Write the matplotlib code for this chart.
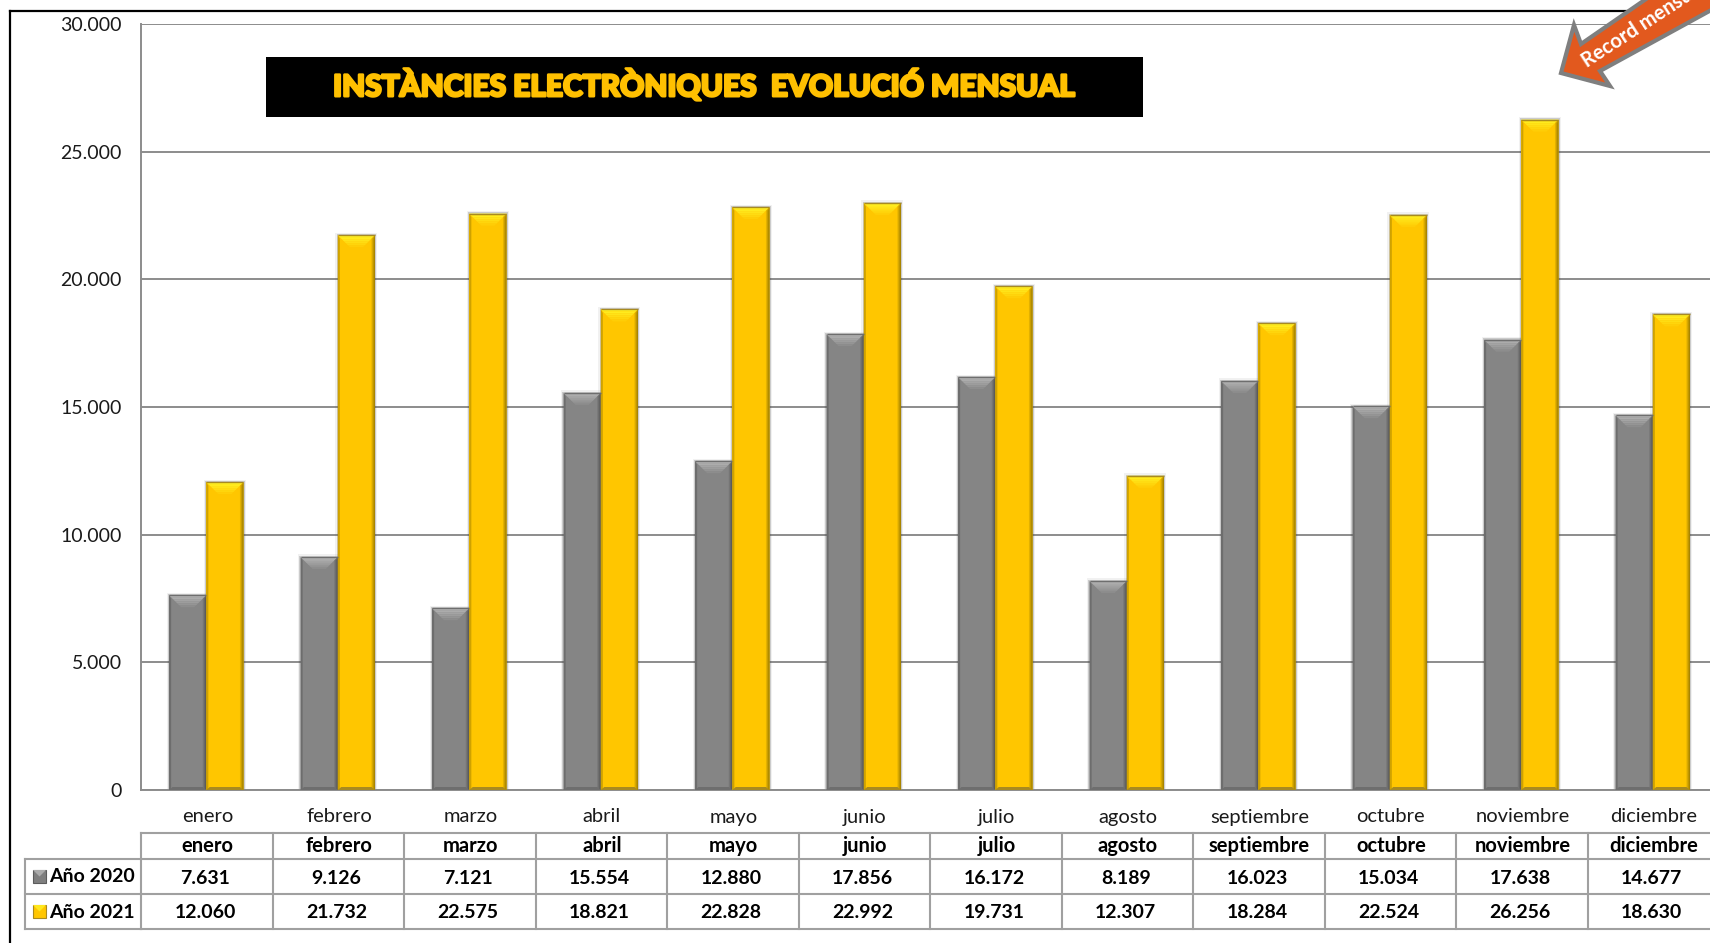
import numpy as np
import matplotlib
matplotlib.use("Agg")
import matplotlib.pyplot as plt
import matplotlib.patheffects as pe
from matplotlib.colors import to_rgb
from matplotlib.patches import Polygon, Rectangle
from matplotlib.transforms import blended_transform_factory

plt.rcParams['font.family'] = ['Lato', 'DejaVu Sans']

# Data
months = ["enero", "febrero", "marzo", "abril", "mayo", "junio", "julio",
          "agosto", "septiembre", "octubre", "noviembre", "diciembre"]
anio_2020 = [7631, 9126, 7121, 15554, 12880, 17856, 16172, 8189, 16023, 15034, 17638, 14677]
anio_2021 = [12060, 21732, 22575, 18821, 22828, 22992, 19731, 12307, 18284, 22524, 26256, 18630]
y_ticks = [0, 5000, 10000, 15000, 20000, 25000, 30000]
series_names = ["Año 2020", "Año 2021"]
title_text = "INSTÀNCIES ELECTRÒNIQUES  EVOLUCIÓ MENSUAL"
arrow_text = "Record mensual"

W, H = 1710, 943
GRID = '#8C8C8C'
LINE = '#A0A0A0'


def fx(px):
    return px / W


def fy(py):
    return 1 - py / H


def dots(n):
    """Thousands with a dot, like the source."""
    return f"{n:,}".replace(",", ".")


def mix(c1, c2, t):
    a, b = np.array(to_rgb(c1)), np.array(to_rgb(c2))
    return tuple(a + (b - a) * t)


fig = plt.figure(figsize=(W / 100, H / 100), dpi=100, facecolor='white')

# axes run past the right edge of the picture, same as the reference
ax_left, ax_right, ax_top, ax_bottom = 141, 141 + 12 * 131.5, 24, 790
ax = fig.add_axes([fx(ax_left), fy(ax_bottom), (ax_right - ax_left) / W, (ax_bottom - ax_top) / H])
ax.set_xlim(-0.5, 11.5)
ax.set_ylim(0, 30000)
ax.set_yticks(y_ticks)
ax.set_yticklabels([dots(v) for v in y_ticks], fontsize=14, color='#1A1A1A')
ax.tick_params(axis='y', length=0, pad=14)
ax.set_xticks([])
ax.yaxis.grid(True, color=GRID, lw=1.4)
ax.set_axisbelow(True)
for side in ['top', 'right']:
    ax.spines[side].set_visible(False)
for side in ['left', 'bottom']:
    ax.spines[side].set_color(GRID)
    ax.spines[side].set_linewidth(1.4)

x = np.arange(len(months))
width = 0.283
unit_x = 1 / 131.5      # one pixel in x data units
unit_y = 30000 / 766    # one pixel in y data units
shift = -0.5 * unit_x   # bars sit a bit left of the category centre


def bevel_bars(xs, values, main, top, side, low):
    # soft shadow first
    for grow, alpha in [(2.5, 0.07), (1.2, 0.22)]:
        ax.bar(xs, np.array(values) + grow * unit_y, width + 2 * grow * unit_x,
               color='#444444', alpha=alpha, zorder=2, lw=0)
    ax.bar(xs, values, width, color=main, zorder=3, lw=0)
    inset = 12 * unit_x
    by = 12 * unit_y
    bx = 3.5 * unit_x
    for xc, v in zip(xs, values):
        l, r = xc - width / 2, xc + width / 2
        # top bevel fades from bright to the bar colour
        steps = 6
        for k in range(steps):
            t0, t1 = k / steps, (k + 1) / steps
            ax.add_patch(Polygon([(l + inset * t0, v - by * t0), (r - inset * t0, v - by * t0),
                                  (r - inset * t1, v - by * t1), (l + inset * t1, v - by * t1)],
                                 closed=True, fc=mix(top, main, t0), ec='none', zorder=4))
        # side bevels get darker to the edge
        for k in range(3):
            t = (k + 1) / 3
            ax.add_patch(Polygon([(r, 0), (r, v), (r - bx * (1.0 - k / 3), v - by * 0.3), (r - bx * (1.0 - k / 3), 0)],
                                 closed=True, fc=mix(main, side, t), ec='none', zorder=4))
        ax.add_patch(Polygon([(l, 0), (l, v), (l + bx * 0.6, v - by * 0.3), (l + bx * 0.6, 0)],
                             closed=True, fc=mix(main, side, 0.55), ec='none', zorder=4))
        ax.add_patch(Polygon([(l, 0), (r, 0), (r - bx, 3 * unit_y), (l + bx, 3 * unit_y)],
                             closed=True, fc=low, ec='none', zorder=4))
        ax.plot([l, r], [v, v], color=low, lw=1, zorder=5, solid_capstyle='butt')


bevel_bars(x - width / 2 + shift, anio_2020, '#858585', '#B4B4B4', '#5A5A5A', '#6E6E6E')
bevel_bars(x + width / 2 + shift, anio_2021, '#FFC600', '#FFF224', '#A88500', '#A88A20')

# table below the chart
trans = blended_transform_factory(ax.transData, fig.transFigure)
rows_y = [833, 859, 894, 929]
edge = 141
for i, py in enumerate(rows_y):
    ax.plot([-0.5, 11.5], [fy(py), fy(py)], transform=trans, color=LINE, lw=1.5, clip_on=False)
for xv in np.arange(-0.5, 12, 1):
    ax.plot([xv, xv], [fy(rows_y[0]), fy(rows_y[-1])], transform=trans, color=LINE, lw=1.5, clip_on=False)
for py in rows_y[1:]:
    fig.add_artist(plt.Line2D([fx(25), fx(edge)], [fy(py), fy(py)], color=LINE, lw=1.5))
fig.add_artist(plt.Line2D([fx(25), fx(25)], [fy(rows_y[1]), fy(rows_y[-1])], color=LINE, lw=1.5))

for i, m in enumerate(months):
    ax.text(i + 0.005, fy(817), m, transform=trans, ha='center', va='center', fontsize=14.5, color='#1A1A1A', clip_on=False)
    ax.text(i + 0.005, fy(846.5), m, transform=trans, ha='center', va='center', fontsize=14.5, fontweight='bold', color='black')
    ax.text(i - 0.012, fy(878), dots(anio_2020[i]), transform=trans, ha='center', va='center',
            fontsize=14, fontweight='bold', color='black')
    ax.text(i - 0.012, fy(913), dots(anio_2021[i]), transform=trans, ha='center', va='center',
            fontsize=14, fontweight='bold', color='black')

# legend keys inside the table
key_styles = [('#7F7F7F', '#ABABAB', '#5C5C5C'), ('#FFC600', '#FFE81E', '#A88A20')]
for name, (main, top, low), py in zip(series_names, key_styles, [876.5, 911.5]):
    x0, x1, y0, y1 = 33, 46, py - 6.5, py + 6.5
    fig.add_artist(Rectangle((fx(x0), fy(y1)), (x1 - x0) / W, (y1 - y0) / H, transform=fig.transFigure,
                             fc=main, ec=low, lw=0.8))
    fig.add_artist(Polygon([(fx(x0), fy(y0)), (fx(x1), fy(y0)), (fx((x0 + x1) / 2), fy(py))],
                           closed=True, transform=fig.transFigure, fc=top, ec='none'))
    fig.text(fx(49), fy(py + 0.5), name, ha='left', va='center', fontsize=14, fontweight='bold', color='black')

# outer black frame
fig.add_artist(plt.Line2D([fx(9.5), fx(W)], [fy(11), fy(11)], color='black', lw=1.6))
fig.add_artist(plt.Line2D([fx(9.5), fx(9.5)], [fy(11), fy(H)], color='black', lw=1.6))

# title box
fig.add_artist(Rectangle((fx(266), fy(117)), (1143 - 266) / W, 60 / H, transform=fig.transFigure,
                         fc='black', ec='none', zorder=6))
fig.text(fx(704), fy(85), title_text, ha='center', va='center', fontsize=21.5, fontweight='black',
         color='#FFC000', zorder=7, path_effects=[pe.withStroke(linewidth=1.8, foreground='#FFC000')])

# orange arrow, cut by the edge of the picture
arrow_px = [(1561, 73), (1574, 25), (1581, 44), (1649, -3), (1735, -3), (1600, 71), (1610, 86)]
fig.add_artist(Polygon([(fx(a), fy(b)) for a, b in arrow_px], closed=True, transform=fig.transFigure,
                       fc='#E2591E', ec='#7F7F7F', lw=3, joinstyle='miter', zorder=8))
fig.text(fx(1584), fy(63), arrow_text, rotation=33, rotation_mode='anchor', ha='left', va='center',
         fontsize=14.5, fontweight='bold', color='white', zorder=9)

fig.savefig("out.png", dpi=100)
